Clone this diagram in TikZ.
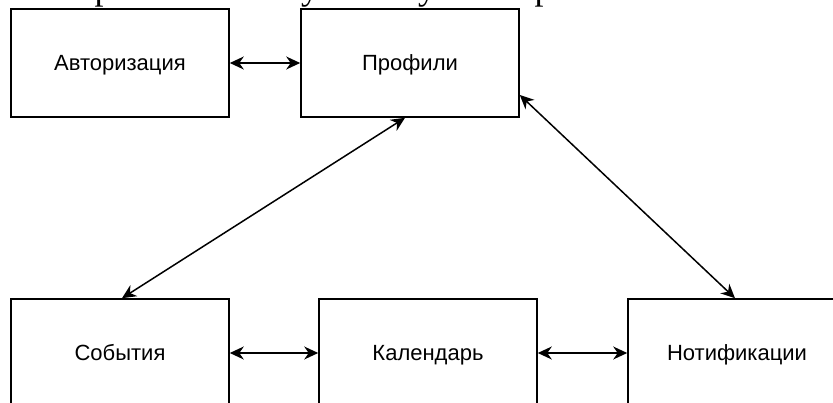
\documentclass[tikz,border=0pt]{standalone}
\usepackage{fontspec}
\setmainfont{Liberation Sans}
\newfontfamily\seriffont{Liberation Serif}
\usetikzlibrary{arrows.meta}
\begin{document}
\begin{tikzpicture}[x=1pt,y=-1pt,
  module/.style={draw=black,line width=1.6pt,fill=white,minimum width=218pt,minimum height=108pt,
    inner sep=0pt,font=\fontsize{22pt}{26pt}\selectfont,text height=15.75pt,text depth=0pt},
  link/.style={draw=black,line width=1.5pt,{Stealth[length=14pt,width=13pt,inset=4.5pt]}-{Stealth[length=14pt,width=13pt,inset=4.5pt]}},
  frag/.style={anchor=base west,inner sep=0pt,font=\seriffont\fontsize{36pt}{40pt}\selectfont}]
\useasboundingbox (0,0) rectangle (833,403);
\clip (0,0) rectangle (833,403);
\node[frag] (f1) at (94.5,-0.3) {р};
\node[frag] (f2) at (301,-0.3) {у};
\node[frag] (f3) at (418,-0.3) {у};
\node[frag] (f4) at (534.5,-0.3) {р};
\node[module] (a) at (120,63) {Авторизация};
\node[module] (p) at (410,63) {Профили};
\node[module] (s) at (120,353) {События};
\node[module] (k) at (428,353) {Календарь};
\node[module] (n) at (737,353) {Нотификации};
\draw[link] (a) -- (p);
\draw[link] (s) -- (k);
\draw[link] (k) -- (n);
\draw[link] ([xshift=2pt]s.north) -- ([xshift=-5pt]p.south);
\draw[link] ([yshift=-32pt]p.east) -- ([xshift=-2pt]n.north);
\end{tikzpicture}
\end{document}
